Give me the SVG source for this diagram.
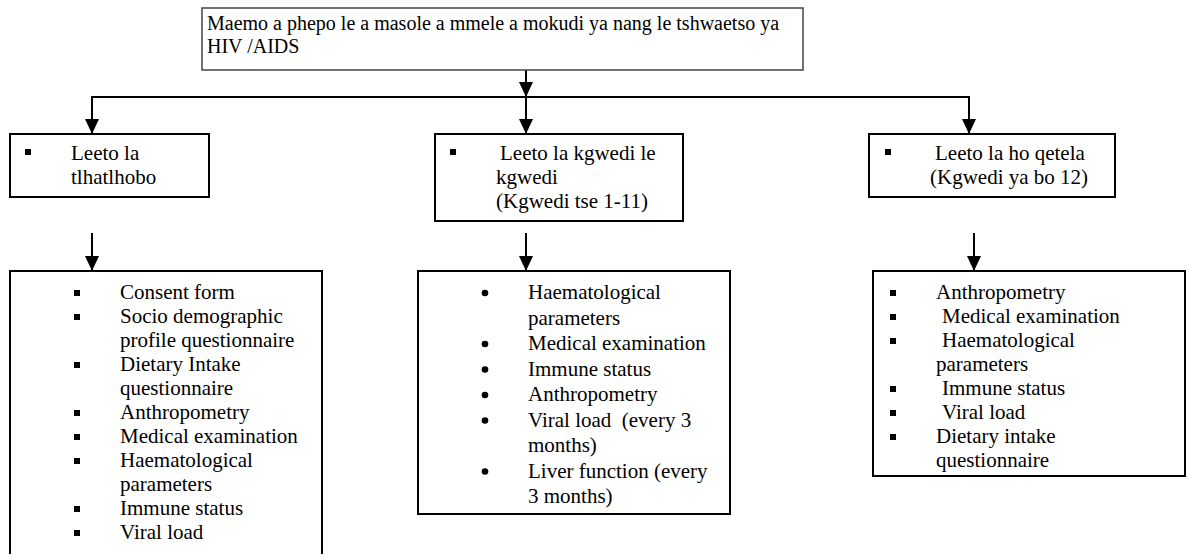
<svg xmlns="http://www.w3.org/2000/svg" width="1189" height="554" viewBox="0 0 1189 554">
<defs>
<style>
text{font-family:"Liberation Serif","Times New Roman",serif;font-size:21px;fill:#000}
.tt{font-size:20px}
.box{fill:#fff;stroke:#000;stroke-width:2}
.top{fill:#fff;stroke:#444;stroke-width:1.5}
.ln{stroke:#000;stroke-width:2;fill:none}
.sq{fill:#000}
.pre{white-space:pre}
</style>
<marker id="ah" viewBox="0 0 15 14" refX="15" refY="7" markerWidth="15" markerHeight="14" markerUnits="userSpaceOnUse" orient="auto">
<path d="M0,0 L15,7 L0,14 z" fill="#000"/>
</marker>
</defs>
<rect width="1189" height="554" fill="#fff"/>

<g id="connectors">
<line class="ln" x1="526" y1="70" x2="526" y2="97" marker-end="url(#ah)"/>
<line class="ln" x1="92" y1="97" x2="970" y2="97"/>
<line class="ln" x1="92" y1="96" x2="92" y2="134" marker-end="url(#ah)"/>
<line class="ln" x1="526" y1="97" x2="526" y2="134" marker-end="url(#ah)"/>
<line class="ln" x1="969" y1="96" x2="969" y2="134" marker-end="url(#ah)"/>
<line class="ln" x1="92" y1="233" x2="92" y2="271" marker-end="url(#ah)"/>
<line class="ln" x1="526" y1="233" x2="526" y2="271" marker-end="url(#ah)"/>
<line class="ln" x1="974" y1="233" x2="974" y2="271" marker-end="url(#ah)"/>
</g>

<g id="n-top">
<rect class="top" x="202" y="8" width="601" height="62"/>
<text class="tt" x="207" y="30">Maemo a phepo le a masole a mmele a mokudi ya nang le tshwaetso ya</text>
<text class="tt" x="207" y="53">HIV /AIDS</text>
</g>

<g id="n-h1">
<rect class="box" x="10" y="134" width="199" height="63"/>
<rect class="sq" x="25" y="149" width="6" height="6"/>
<text x="71" y="160">Leeto la</text>
<text x="71" y="184">tlhatlhobo</text>
</g>

<g id="n-h2">
<rect class="box" x="435" y="134" width="248" height="87"/>
<rect class="sq" x="450" y="149" width="6" height="6"/>
<text x="500" y="160">Leeto la kgwedi le</text>
<text x="496" y="184">kgwedi</text>
<text x="496" y="208">(Kgwedi tse 1-11)</text>
</g>

<g id="n-h3">
<rect class="box" x="869" y="134" width="246" height="63"/>
<rect class="sq" x="885" y="149" width="6" height="6"/>
<text x="935" y="160">Leeto la ho qetela</text>
<text x="930" y="184">(Kgwedi ya bo 12)</text>
</g>

<g id="n-b1">
<rect class="box" x="10" y="271" width="312" height="300"/>
<g class="sq">
<rect x="74" y="290" width="6" height="6"/>
<rect x="74" y="314" width="6" height="6"/>
<rect x="74" y="362" width="6" height="6"/>
<rect x="74" y="410" width="6" height="6"/>
<rect x="74" y="434" width="6" height="6"/>
<rect x="74" y="458" width="6" height="6"/>
<rect x="74" y="506" width="6" height="6"/>
<rect x="74" y="530" width="6" height="6"/>
</g>
<text x="120" y="299">Consent form</text>
<text x="120" y="323">Socio demographic</text>
<text x="120" y="347">profile questionnaire</text>
<text x="120" y="371">Dietary Intake</text>
<text x="120" y="395">questionnaire</text>
<text x="120" y="419">Anthropometry</text>
<text x="120" y="443">Medical examination</text>
<text x="120" y="467">Haematological</text>
<text x="120" y="491">parameters</text>
<text x="120" y="515">Immune status</text>
<text x="120" y="539">Viral load</text>
</g>

<g id="n-b2">
<rect class="box" x="418" y="271" width="312" height="243"/>
<g class="sq">
<circle cx="485" cy="293" r="3.3"/>
<circle cx="485" cy="344" r="3.3"/>
<circle cx="485" cy="369.5" r="3.3"/>
<circle cx="485" cy="395" r="3.3"/>
<circle cx="485" cy="420.5" r="3.3"/>
<circle cx="485" cy="471.5" r="3.3"/>
</g>
<text x="528" y="299">Haematological</text>
<text x="528" y="324.5">parameters</text>
<text x="528" y="350">Medical examination</text>
<text x="528" y="375.5">Immune status</text>
<text x="528" y="401">Anthropometry</text>
<text x="528" y="426.5" class="pre">Viral load  (every 3</text>
<text x="528" y="452">months)</text>
<text x="528" y="477.5">Liver function (every</text>
<text x="528" y="503">3 months)</text>
</g>

<g id="n-b3">
<rect class="box" x="873" y="271" width="312" height="205"/>
<g class="sq">
<rect x="890" y="290" width="6" height="6"/>
<rect x="890" y="314" width="6" height="6"/>
<rect x="890" y="338" width="6" height="6"/>
<rect x="890" y="386" width="6" height="6"/>
<rect x="890" y="410" width="6" height="6"/>
<rect x="890" y="434" width="6" height="6"/>
</g>
<text x="936" y="299">Anthropometry</text>
<text x="942" y="323">Medical examination</text>
<text x="942" y="347">Haematological</text>
<text x="936" y="371">parameters</text>
<text x="942" y="395">Immune status</text>
<text x="942" y="419">Viral load</text>
<text x="936" y="443">Dietary intake</text>
<text x="936" y="467">questionnaire</text>
</g>
</svg>
